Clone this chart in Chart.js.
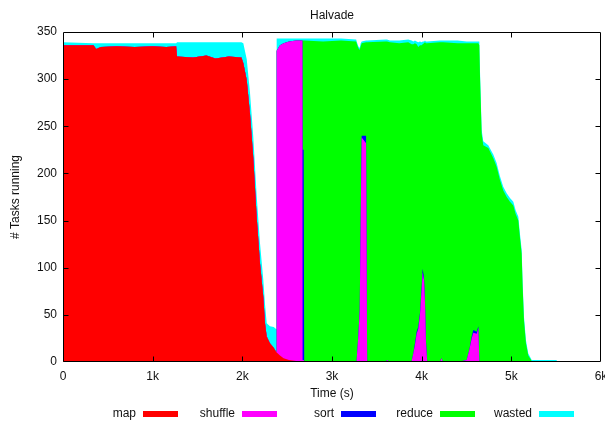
<!DOCTYPE html>
<html>
<head>
<meta charset="utf-8">
<script src="https://cdn.jsdelivr.net/npm/chart.js"></script>
<style>
  html, body { margin: 0; padding: 0; background: #fff; }
  #wrap { width: 605px; height: 424px; }
</style>
</head>
<body>
<div id="wrap"><canvas id="taskChart"></canvas></div>
<script>
// time (s) of each sample
const times = [
  0, 340, 370, 420, 600, 800, 1000, 1150, 1262, 1272,
  1450, 1600, 1700, 1850, 1990, 2011, 2049, 2085, 2122, 2160,
  2197, 2234, 2253, 2272, 2308, 2350, 2376, 2383, 2420, 2460,
  2520, 2600, 2670, 2672, 2684, 2690, 2900, 3100, 3270, 3275,
  3293, 3309, 3320, 3331, 3380, 3392, 3600, 3613, 3646, 3750,
  3850, 3888, 3907, 3925, 3944, 3962, 3981, 4000, 4011, 4026,
  4037, 4048, 4062, 4204, 4220, 4238, 4400, 4502, 4532, 4558,
  4576, 4614, 4632, 4643, 4650, 4669, 4687, 4743, 4799, 4836,
  4873, 4910, 4948, 4985, 5022, 5048, 5078, 5096, 5115, 5126,
  5141, 5163, 5189, 5227, 5450, 5455, 5505, 5510
];

const mapTasks = [
  336, 336, 332, 334, 335, 334, 335, 334, 335, 324,
  323, 325, 322, 324, 323, 317, 299, 264, 217, 154,
  105, 69, 41, 27, 20, 15, 11, 10, 7, 4,
  2, 1, 0, 0, 0, 0, 0, 0, 0, 0,
  0, 0, 0, 0, 0, 0, 0, 0, 0, 0,
  0, 0, 0, 0, 0, 0, 0, 0, 0, 0,
  0, 0, 0, 0, 0, 0, 0, 0, 0, 0,
  0, 0, 0, 0, 0, 0, 0, 0, 0, 0,
  0, 0, 0, 0, 0, 0, 0, 0, 0, 0,
  0, 0, 0, 0, 0, 0, 0, 0
];

const shuffleTasks = [
  0, 0, 0, 0, 0, 0, 0, 0, 0, 0,
  0, 0, 0, 0, 0, 0, 0, 0, 0, 0,
  0, 0, 0, 0, 0, 0, 0, 320, 329, 334,
  338, 340, 341, 2, 2, 0, 0, 0, 0, 2,
  27, 55, 150, 238, 232, 0, 0, 2, 0, 0,
  0, 1, 9, 18, 30, 35, 50, 77, 95, 87,
  63, 21, 0, 0, 4, 0, 0, 2, 13, 25,
  31, 30, 36, 0, 0, 0, 0, 0, 0, 0,
  0, 0, 0, 0, 0, 0, 0, 0, 0, 0,
  0, 0, 0, 0, 0, 0, 0, 0
];

const sortTasks = [
  0, 0, 0, 0, 0, 0, 0, 0, 0, 0,
  0, 0, 0, 0, 0, 0, 0, 0, 0, 0,
  0, 0, 0, 0, 0, 0, 0, 0, 0, 0,
  0, 0, 0, 223, 223, 0, 0, 0, 0, 0,
  0, 0, 0, 2, 8, 0, 0, 0, 0, 0,
  0, 0, 0, 2, 2, 2, 2, 3, 4, 3,
  3, 2, 0, 0, 0, 0, 0, 0, 0, 2,
  3, 2, 2, 0, 0, 0, 0, 0, 0, 0,
  0, 0, 0, 0, 0, 0, 0, 0, 0, 0,
  0, 0, 0, 0, 0, 0, 0, 0
];

const reduceTasks = [
  0, 0, 0, 0, 0, 0, 0, 0, 0, 0,
  0, 0, 0, 0, 0, 0, 0, 0, 0, 0,
  0, 0, 0, 0, 0, 0, 0, 0, 0, 0,
  0, 0, 0, 116, 116, 341, 340, 341, 340, 336,
  306, 276, 185, 98, 99, 339, 340, 338, 339, 338,
  339, 336, 328, 318, 305, 297, 284, 256, 238, 248,
  273, 315, 338, 339, 335, 339, 338, 336, 325, 311,
  304, 306, 300, 336, 305, 242, 230, 227, 216, 207,
  193, 182, 175, 170, 166, 157, 150, 132, 115, 80,
  44, 20, 7, 1, 1, 0, 0, 0
];

const wastedTasks = [
  3, 2, 6, 4, 3, 4, 3, 4, 3, 15,
  16, 14, 17, 15, 16, 21, 22, 22, 22, 22,
  21, 18, 20, 14, 18, 22, 24, 13, 7, 5,
  3, 2, 2, 2, 2, 2, 3, 2, 2, 2,
  2, 2, 3, 2, 2, 2, 2, 2, 2, 3,
  3, 4, 3, 3, 3, 5, 4, 3, 3, 2,
  2, 2, 2, 2, 2, 2, 3, 2, 2, 2,
  2, 2, 2, 4, 5, 4, 4, 3, 4, 4,
  4, 4, 4, 4, 4, 4, 4, 4, 4, 4,
  4, 3, 2, 1, 1, 2, 2, 0
];

const seriesNames = ["map", "shuffle", "sort", "reduce", "wasted"];
const seriesColors = ["#ff0000", "#ff00ff", "#0000ff", "#00ff00", "#00ffff"];
const seriesValues = [mapTasks, shuffleTasks, sortTasks, reduceTasks, wastedTasks];

const xTicks = [0, 1000, 2000, 3000, 4000, 5000, 6000];
const yTicks = [0, 50, 100, 150, 200, 250, 300, 350];

const FONT = "'Liberation Sans', Arial, sans-serif";
const INK = "#111";

// gnuplot style frame with inward tick marks
const framePlugin = {
    id: "frame",
    afterDatasetsDraw(chart) {
        const {ctx, chartArea: a, scales} = chart;
        const l = Math.round(a.left) + 0.5, r = Math.round(a.right) - 0.5;
        const t = Math.round(a.top) + 0.5, b = Math.round(a.bottom) - 0.5;
        ctx.save();
        ctx.strokeStyle = "#000";
        ctx.lineWidth = 1;
        ctx.beginPath();
        ctx.rect(l, t, r - l, b - t);
        xTicks.slice(1, -1).forEach(v => {
            const px = Math.round(scales.x.getPixelForValue(v)) + 0.5;
            ctx.moveTo(px, b); ctx.lineTo(px, b - 5);
            ctx.moveTo(px, t); ctx.lineTo(px, t + 5);
        });
        yTicks.slice(1, -1).forEach(v => {
            const py = Math.round(scales.y.getPixelForValue(v)) + 0.5;
            ctx.moveTo(l, py); ctx.lineTo(l + 5, py);
            ctx.moveTo(r, py); ctx.lineTo(r - 5, py);
        });
        ctx.stroke();
        ctx.restore();
    }
};

// legend: label on the left, swatch on the right, fixed columns
const keyPlugin = {
    id: "key",
    afterDraw(chart) {
        const ctx = chart.ctx;
        ctx.save();
        ctx.font = "12px " + FONT;
        ctx.textAlign = "right";
        ctx.textBaseline = "middle";
        chart.data.datasets.forEach((ds, i) => {
            const sx = 143 + 99 * i;
            ctx.fillStyle = INK;
            ctx.fillText(ds.label, sx - 7, 414);
            ctx.fillStyle = ds.backgroundColor;
            ctx.fillRect(sx, 411, 35, 6);
        });
        ctx.restore();
    }
};

document.addEventListener("DOMContentLoaded", function () {

    Chart.defaults.font.family = FONT;
    Chart.defaults.font.size = 12;
    Chart.defaults.color = INK;

    const datasets = seriesNames.map((name, i) => ({
        label: name,
        data: times.map((t, k) => ({x: t, y: seriesValues[i][k]})),
        backgroundColor: seriesColors[i],
        borderColor: seriesColors[i],
        borderWidth: 0,
        pointRadius: 0,
        tension: 0,
        fill: "origin"
    }));

    new Chart(document.getElementById("taskChart"), {
        type: "line",
        data: { datasets: datasets },
        plugins: [framePlugin, keyPlugin],
        options: {
            responsive: true,
            maintainAspectRatio: false,
            animation: false,
            layout: { padding: { left: 0, right: 4, top: 0, bottom: 22 } },
            plugins: {
                legend: { display: false },
                tooltip: { enabled: false },
                title: {
                    display: true,
                    text: "Halvade",
                    fullSize: false,
                    color: INK,
                    font: { size: 12, weight: "normal" },
                    padding: { top: 8, bottom: 9.6 }
                }
            },
            scales: {
                x: {
                    type: "linear",
                    min: 0,
                    max: 6000,
                    grid: { display: false, drawTicks: false },
                    border: { display: false },
                    afterBuildTicks: s => { s.ticks = xTicks.map(v => ({value: v})); },
                    afterFit: s => { s.height = 40; s.paddingLeft = 0; s.paddingRight = 0; },
                    ticks: {
                        padding: 7,
                        maxRotation: 0,
                        autoSkip: false,
                        callback: v => v === 0 ? "0" : (v / 1000) + "k"
                    },
                    title: {
                        display: true,
                        text: "Time (s)",
                        padding: { top: 0, bottom: 1 }
                    }
                },
                y: {
                    stacked: true,
                    min: 0,
                    max: 350,
                    grid: { display: false, drawTicks: false },
                    border: { display: false },
                    afterBuildTicks: s => { s.ticks = yTicks.map(v => ({value: v})); },
                    afterFit: s => { s.width = 63; },
                    ticks: { padding: 6 },
                    title: {
                        display: true,
                        text: "# Tasks running",
                        padding: { top: 8, bottom: 0 }
                    }
                }
            }
        }
    });
});
</script>
</body>
</html>
